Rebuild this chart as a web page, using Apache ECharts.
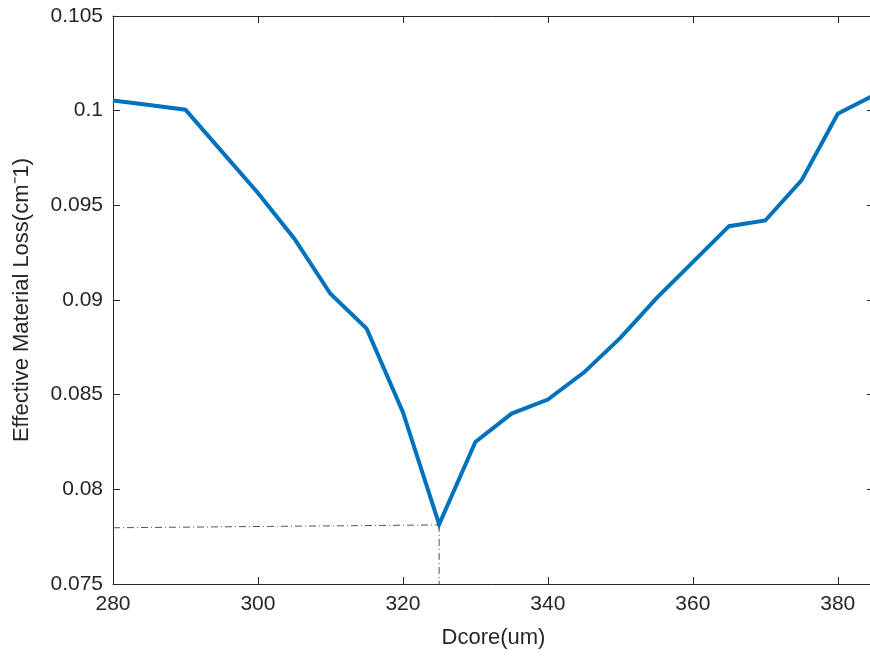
<!DOCTYPE html>
<html>
<head>
<meta charset="utf-8">
<script src="https://cdn.jsdelivr.net/npm/echarts@6/dist/echarts.min.js"></script>
<style>
  html, body { margin: 0; padding: 0; background: #fff; }
  #chart { width: 870px; height: 656px; }
</style>
</head>
<body>
<div id="chart"></div>
<script>
// Core diameter sweep (um) and the resulting effective material loss (cm^-1)
const dcore = [280, 285, 290, 295, 300, 305, 310, 315, 320, 325, 330, 335, 340,
               345, 350, 355, 360, 365, 370, 375, 380, 385];
const loss = [0.10054, 0.10030, 0.10005, 0.09785, 0.09565, 0.09325, 0.09033, 0.08849,
              0.08408, 0.07815, 0.08250, 0.08400, 0.08474, 0.08618, 0.08800, 0.09010,
              0.09200, 0.09390, 0.09420, 0.09632, 0.09984, 0.10082];

// Guide lines marking the minimum
const minGuideH = [[280, 0.07797], [325, 0.07812]];
const minGuideV = [[325, 0.07812], [325, 0.075]];

const xTicks = { min: 280, max: 385, interval: 20 };
const yTicks = { min: 0.075, max: 0.105, interval: 0.005 };

const ink = '#262626';
const font = 'Liberation Sans, Arial, sans-serif';

const chart = echarts.init(document.getElementById('chart'));

const frameAxis = {
  axisLine: { show: true, lineStyle: { color: ink, width: 1 } },
  axisTick: { show: true, inside: true, length: 7, lineStyle: { color: ink } },
  splitLine: { show: false }
};

chart.setOption({
  animation: false,
  backgroundColor: '#fff',
  grid: { left: 113, top: 16, width: 761, height: 568, outerBoundsMode: 'none', containLabel: false },
  xAxis: [
    Object.assign({
      type: 'value', position: 'bottom',
      min: xTicks.min, max: xTicks.max, interval: xTicks.interval,
      name: 'Dcore(um)', nameLocation: 'middle', nameGap: 43,
      nameTextStyle: { color: ink, fontSize: 22, fontFamily: font },
      axisLabel: { color: ink, fontSize: 21, fontFamily: font, margin: 10, showMaxLabel: false }
    }, frameAxis),
    Object.assign({
      type: 'value', position: 'top',
      min: xTicks.min, max: xTicks.max, interval: xTicks.interval,
      axisLabel: { show: false }
    }, frameAxis)
  ],
  yAxis: [
    Object.assign({
      type: 'value', position: 'left',
      min: yTicks.min, max: yTicks.max, interval: yTicks.interval,
      name: 'Effective Material Loss(cm\u207B1)', nameLocation: 'middle', nameGap: 80,
      nameTextStyle: { color: ink, fontSize: 22, fontFamily: font },
      axisLabel: {
        color: ink, fontSize: 21, fontFamily: font, margin: 10,
        formatter: v => String(+v.toFixed(3))
      }
    }, frameAxis),
    Object.assign({
      type: 'value', position: 'right',
      min: yTicks.min, max: yTicks.max, interval: yTicks.interval,
      axisLabel: { show: false }
    }, frameAxis)
  ],
  series: [
    {
      type: 'line',
      data: minGuideH,
      symbol: 'none',
      lineStyle: { color: '#555', width: 1, type: [7, 3, 1, 3] },
      silent: true
    },
    {
      type: 'line',
      data: minGuideV,
      symbol: 'none',
      lineStyle: { color: '#555', width: 1, type: [7, 3, 1, 3] },
      silent: true
    },
    {
      type: 'line',
      data: dcore.map((d, i) => [d, loss[i]]),
      symbol: 'none',
      lineStyle: { color: '#0072BD', width: 4, join: 'miter' },
      clip: true
    }
  ]
});
</script>
</body>
</html>
